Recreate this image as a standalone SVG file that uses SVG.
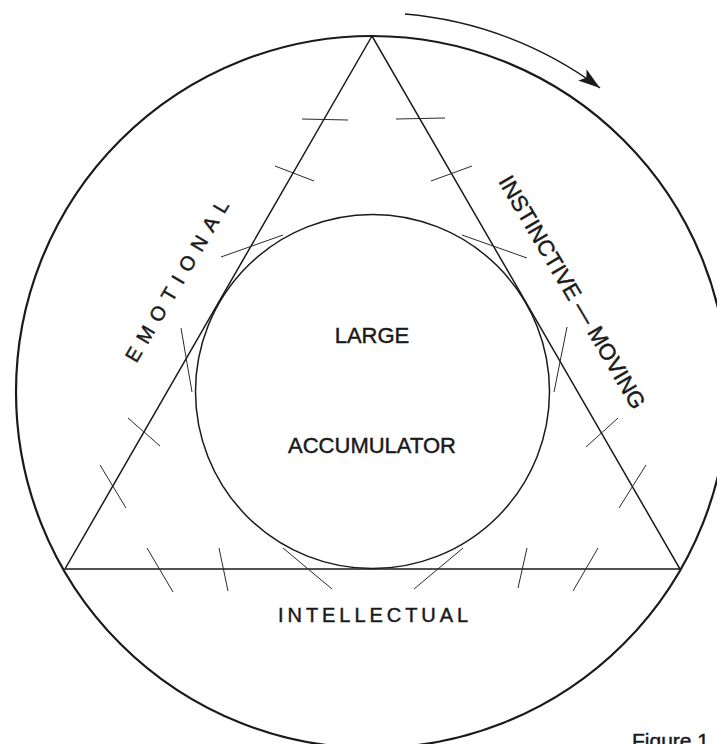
<svg xmlns="http://www.w3.org/2000/svg" width="717" height="744" viewBox="0 0 717 744">
  <style>
    .heavy { fill: none; stroke: #1a1a1a; stroke-width: 2.2; }
    .edge { fill: none; stroke: #1a1a1a; stroke-width: 1.5; }
    .tick { fill: none; stroke: #2a2a2a; stroke-width: 1; }
    .lbl { font-family: "Liberation Sans", Arial, sans-serif; fill: #1a1a1a; stroke: #1a1a1a; stroke-width: 0.45; }
  </style>
  <defs>
    <marker id="arrowhead" markerUnits="userSpaceOnUse" markerWidth="24" markerHeight="16" refX="22" refY="7" orient="auto">
      <path d="M0,0 L22,7 L0,14 L5,7 Z" fill="#1a1a1a"/>
    </marker>
  </defs>
  <rect width="717" height="744" fill="#ffffff"/>

  <g id="outer-circle">
    <circle class="heavy" cx="372" cy="392" r="356"/>
  </g>

  <g id="triangle">
    <polygon class="edge" points="372,36 65,569 680,569" stroke-linejoin="miter"/>
  </g>

  <g id="accumulator">
    <circle class="edge" cx="372.5" cy="391.5" r="177"/>
    <text class="lbl" x="372" y="343" font-size="22" text-anchor="middle">LARGE</text>
    <text class="lbl" x="372" y="453" font-size="22" text-anchor="middle">ACCUMULATOR</text>
  </g>

  <g id="emotional">
    <text class="lbl" transform="translate(183,284.5) rotate(-59.5)" x="4.15" y="0" font-size="20" letter-spacing="8.3" text-anchor="middle">EMOTIONAL</text>
  </g>

  <g id="instinctive-moving">
    <text class="lbl" transform="translate(565.5,296) rotate(59.5)" x="0" y="0" font-size="22.5" text-anchor="middle">INSTINCTIVE — MOVING</text>
  </g>

  <g id="intellectual">
    <text class="lbl" x="278" y="622" font-size="20" letter-spacing="3.95">INTELLECTUAL</text>
  </g>

  <g id="ticks">
    <line class="tick" x1="302" y1="119" x2="348" y2="120"/>
    <line class="tick" x1="275" y1="166" x2="314" y2="181"/>
    <line class="tick" x1="221" y1="257" x2="283" y2="235"/>
    <line class="tick" x1="181" y1="328" x2="192" y2="392"/>
    <line class="tick" x1="128" y1="418" x2="160" y2="446"/>
    <line class="tick" x1="100" y1="465" x2="126" y2="508"/>

    <line class="tick" x1="147" y1="548" x2="173" y2="592"/>
    <line class="tick" x1="219" y1="548" x2="228" y2="591"/>
    <line class="tick" x1="283" y1="548" x2="332" y2="589"/>
    <line class="tick" x1="463" y1="548" x2="414" y2="589"/>
    <line class="tick" x1="527" y1="548" x2="518" y2="588"/>
    <line class="tick" x1="598" y1="548" x2="573" y2="591"/>

    <line class="tick" x1="618" y1="418" x2="586" y2="447"/>
    <line class="tick" x1="646" y1="465" x2="619" y2="508"/>
    <line class="tick" x1="396" y1="119" x2="445" y2="118"/>
    <line class="tick" x1="431" y1="181" x2="472" y2="166"/>
    <line class="tick" x1="462" y1="235" x2="527" y2="258"/>
    <line class="tick" x1="567" y1="327" x2="554" y2="392"/>
  </g>

  <g id="connectors">
    <path class="edge" d="M405,14 A380,380 0 0 1 600,88" marker-end="url(#arrowhead)"/>
  </g>

  <g id="caption">
    <text class="lbl" x="632" y="748" font-size="21">Figure 1</text>
  </g>
</svg>
